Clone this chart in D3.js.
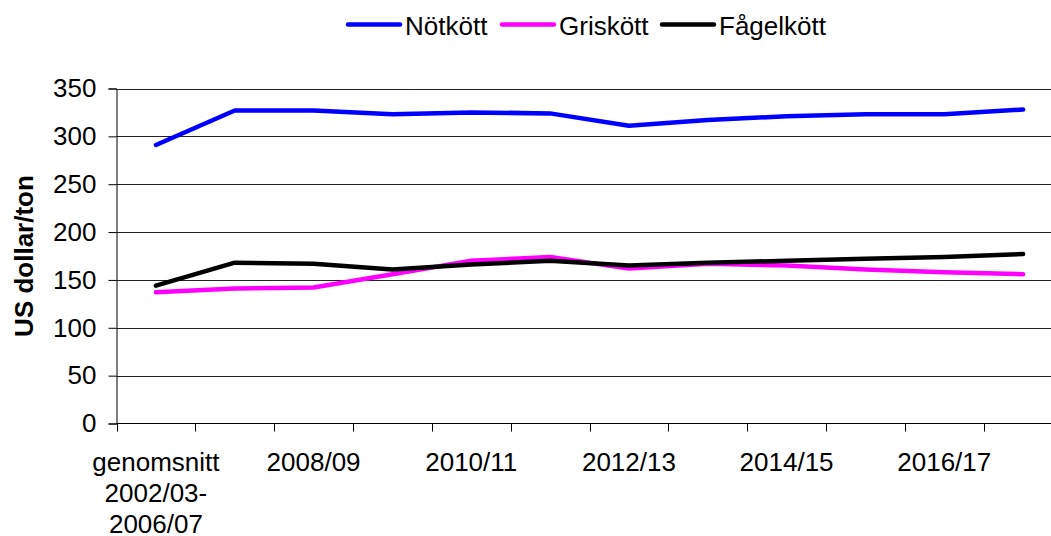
<!DOCTYPE html>
<html><head><meta charset="utf-8">
<script src="https://cdn.jsdelivr.net/npm/d3@7"></script>
<style>body{margin:0;background:#fff;} svg{display:block;} text{font-family:"Liberation Sans",Arial,sans-serif;}</style>
</head><body>
<svg id="c" width="1051" height="536"></svg>
<script>
const categories = ["genomsnitt|2002/03-|2006/07","2007/08","2008/09","2009/10","2010/11","2011/12","2012/13","2013/14","2014/15","2015/16","2016/17","2017/18"];
const shownLabels = [0,2,4,6,8,10];
const notkott = [291,327,327,323,325,324,311,317,321,323,323,328];
const griskott = [137,141,142,156,170,174,162,167,165,161,158,156];
const fagelkott = [144,168,167,161,166,170,165,168,170,172,174,177];
const yTicks = [0,50,100,150,200,250,300,350];
const seriesNames = ["Nötkött","Griskött","Fågelkött"];
const seriesColors = ["#0000FF","#FF00FF","#000000"];
const series = [notkott, griskott, fagelkott];

const svg = d3.select("#c");
const L = 116.5, R = 1062.5, T = 88.5, B = 423.5;
const x = d3.scaleBand().domain(categories).range([L, R]).paddingInner(0).paddingOuter(0);
const y = d3.scaleLinear().domain([0,350]).range([B, T]);

// gridlines
svg.append("g").selectAll("line").data(yTicks.filter(d=>d>0)).join("line")
  .attr("x1", L).attr("x2", R).attr("y1", d=>Math.round(y(d))+0.5).attr("y2", d=>Math.round(y(d))+0.5)
  .attr("stroke", "#222").attr("stroke-width", 1);

// y axis
const yAxis = d3.axisLeft(y).tickValues(yTicks).tickSize(8).tickPadding(12).tickFormat(d3.format("d"));
const gy = svg.append("g").attr("transform", `translate(${L},0)`).call(yAxis);
gy.select(".domain").attr("stroke","#000");
gy.selectAll(".tick line").attr("stroke","#000");
gy.selectAll(".tick text").attr("font-size","26px").attr("fill","#000").attr("font-family","Liberation Sans, Arial, sans-serif");

// x axis with ticks at band boundaries
const gx = svg.append("g");
gx.append("line").attr("x1", L).attr("x2", R).attr("y1", B).attr("y2", B).attr("stroke","#000");
const bounds = d3.range(categories.length+1).map(i => i < categories.length ? x(categories[i]) : x(categories[categories.length-1]) + x.bandwidth());
gx.selectAll("line.tk").data(bounds).join("line").attr("class","tk")
  .attr("x1", d=>Math.round(d)+0.5).attr("x2", d=>Math.round(d)+0.5).attr("y1", B).attr("y2", B+8).attr("stroke","#000");
const lab = gx.selectAll("text.xl").data(shownLabels).join("text").attr("class","xl")
  .attr("x", i => x(categories[i]) + x.bandwidth()/2).attr("y", 471)
  .attr("text-anchor","middle").attr("font-size","26px").attr("fill","#000");
lab.each(function(i){
  const parts = categories[i].split("|");
  d3.select(this).selectAll("tspan").data(parts).join("tspan")
    .attr("x", x(categories[i]) + x.bandwidth()/2).attr("dy", (d,j)=> j===0?0:31).text(d=>d);
});

// lines
const line = d3.line().x((d,i)=>x(categories[i]) + x.bandwidth()/2).y(d=>y(d));
series.forEach((s, k) => {
  svg.append("path").datum(s).attr("d", line).attr("fill","none")
    .attr("stroke", seriesColors[k]).attr("stroke-width", 4.5)
    .attr("stroke-linejoin","round").attr("stroke-linecap","round");
});

// y label
svg.append("text").attr("transform","translate(33,256) rotate(-90)")
  .attr("text-anchor","middle").attr("font-size","26px").attr("font-weight","bold").text("US dollar/ton");

// legend
const legX = [348, 502, 662];
const lg = svg.append("g");
seriesNames.forEach((n,k)=>{
  lg.append("line").attr("x1", legX[k]).attr("x2", legX[k]+52).attr("y1", 24.5).attr("y2", 24.5)
    .attr("stroke", seriesColors[k]).attr("stroke-width", 4.5).attr("stroke-linecap","round");
  lg.append("text").attr("x", legX[k]+57).attr("y", 35).attr("font-size","26px").attr("fill","#000").text(n);
});
</script>
</body></html>
